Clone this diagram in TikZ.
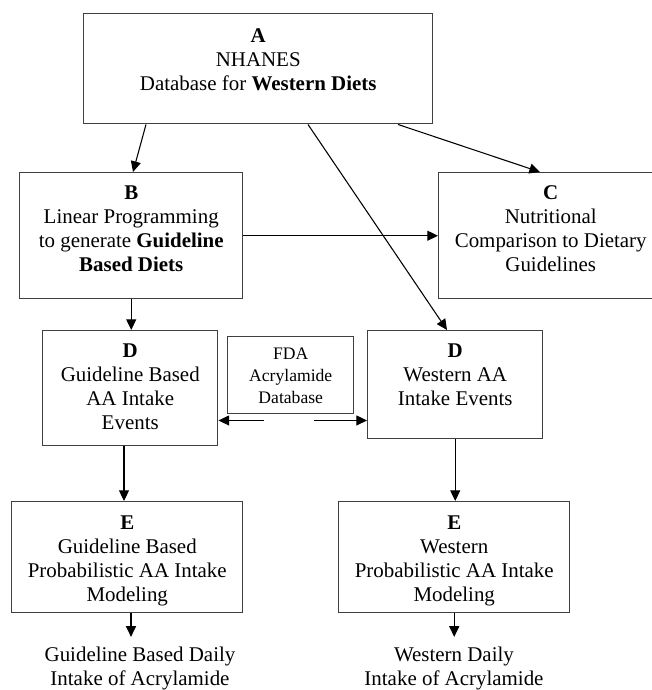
\documentclass[tikz,border=0pt]{standalone}
\usepackage{fontspec}
\setmainfont{Liberation Serif}
\usetikzlibrary{arrows.meta}
\newlength{\unitpx}\setlength{\unitpx}{0.75pt}
\newcommand{\blk}[4]{\parbox[c][#2\unitpx][t]{#1\unitpx}{\centering\rule{0pt}{#3\unitpx}#4}}
\tikzset{block/.style={draw=black!75, line width=1.1pt, inner sep=0pt, anchor=north west},
  arr/.style={-{Triangle[length=8pt,width=7.5pt]}, line width=0.8pt},
  outtext/.style={inner sep=0pt, anchor=base}}

\begin{document}
\begin{tikzpicture}[x=0.75pt, y=-0.75pt, font=\fontsize{15.7}{18}\selectfont]
\useasboundingbox (0,0) rectangle (652,690);
\node[block] (A) at (83,13) {\blk{349}{110}{29}{\textbf{A}\\NHANES\\Database for \textbf{Western Diets}}};
\node[block] (B) at (19,172) {\blk{223}{126}{27}{\textbf{B}\\Linear Programming\\to generate \textbf{Guideline}\\\textbf{Based Diets}}};
\node[block] (C) at (438,172) {\blk{224}{126}{27}{\textbf{C}\\Nutritional\\Comparison to Dietary\\Guidelines}};
\node[block] (DG) at (42,330) {\blk{175}{115}{27}{\textbf{D}\\Guideline Based\\AA Intake\\Events}};
\node[block, font=\fontsize{13.2}{16.5}\selectfont] (FDA) at (227,336) {\blk{126}{77}{23}{FDA\\Acrylamide\\Database}};
\node[block] (DW) at (367,330) {\blk{175}{108}{27}{\textbf{D}\\Western AA\\Intake Events}};
\node[block] (EG) at (11,501) {\blk{231}{111}{28}{\textbf{E}\\Guideline Based\\Probabilistic AA Intake\\Modeling}};
\node[block] (EW) at (338,501) {\blk{231}{111}{28}{\textbf{E}\\Western\\Probabilistic AA Intake\\Modeling}};
\node[outtext] (GD) at (140,661) {\parbox[t]{230\unitpx}{\centering Guideline Based Daily\\Intake of Acrylamide}};
\node[outtext] (WD) at (454,661) {\parbox[t]{230\unitpx}{\centering Western Daily\\Intake of Acrylamide}};
% connectors
\draw[arr] ([shift={(63,0)}]A.south west) -- ([shift={(114,0)}]B.north west);
\draw[arr] ([shift={(315,0)}]A.south west) -- ([shift={(102,0)}]C.north west);
\draw[arr] ([shift={(225,0)}]A.south west) -- ([shift={(80,0)}]DW.north west);
\draw[arr] (B.east) -- (B.east -| C.west);
\draw[arr] (B.south) -- (B.south |- DG.north);
\coordinate (dg) at ([shift={(82,0)}]DG.south west);
\draw[arr] (dg) -- (dg |- EG.north);
\draw[arr] (DW.south) -- (DW.south |- EW.north);
\coordinate (fl) at ([shift={(37,6)}]FDA.south west);
\coordinate (fr) at ([shift={(-40,6)}]FDA.south east);
\draw[arr] (fl) -- (fl -| DG.east); \draw[arr] (fr) -- (fr -| DW.west);
\coordinate (eg) at ([shift={(120,0)}]EG.south west);
\draw[arr, shorten >=7pt] (eg) -- (eg |- GD.north);
\draw[arr, shorten >=7pt] (EW.south) -- (EW.south |- WD.north);
\end{tikzpicture}
\end{document}
